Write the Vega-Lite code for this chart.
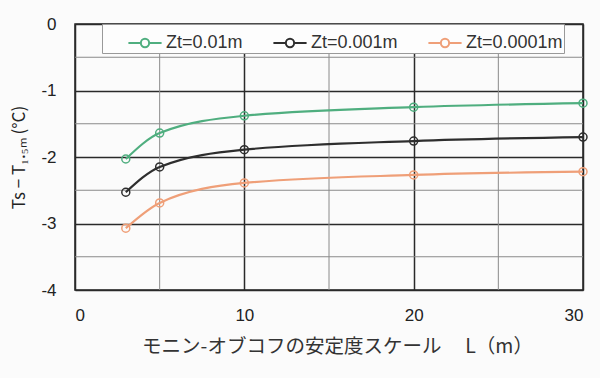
{
  "$schema": "https://vega.github.io/schema/vega-lite/v6.json",
  "width": 508,
  "height": 266,
  "autosize": {"type": "none"},
  "padding": {"left": 75, "top": 24, "right": 17, "bottom": 88},
  "background": "#fbfbfb",
  "config": {
    "view": {"stroke": "#222", "strokeWidth": 1.5},
    "font": "Noto Sans CJK JP"
  },
  "layer": [
    {
      "data": {"values": [{"v": -0.5}, {"v": -1.5}, {"v": -2.5}, {"v": -3.5}]},
      "mark": {"type": "rule", "color": "#8a8a8a", "strokeWidth": 1},
      "encoding": {
        "y": {
          "field": "v", "type": "quantitative", "scale": {"domain": [-4, 0], "nice": false},
          "title": "Ts − T₁.₅ₘ  (°C)",
          "axis": {
            "values": [-4, -3, -2, -1, 0], "grid": true, "gridColor": "#2a2a2a", "gridWidth": 1.5,
            "domain": false, "ticks": false, "labelPadding": 19, "labelFontSize": 17,
            "labelColor": "#222", "labelFont": "Liberation Sans",
            "labelExpr": "replace(datum.label, '−', '-')",
            "titleFontSize": 17, "titleFontWeight": "normal", "titleColor": "#222",
            "titlePadding": 12
          }
        }
      }
    },
    {
      "data": {"values": [{"v": 5}, {"v": 15}, {"v": 25}]},
      "mark": {"type": "rule", "color": "#8a8a8a", "strokeWidth": 1},
      "encoding": {
        "x": {
          "field": "v", "type": "quantitative", "scale": {"domain": [0, 30], "nice": false},
          "title": "モニン-オブコフの安定度スケール　 L（m）",
          "axis": {
            "values": [0, 10, 20, 30], "grid": true, "gridColor": "#2a2a2a", "gridWidth": 1.5,
            "domain": false, "ticks": false, "labelPadding": 17, "labelFontSize": 17,
            "labelColor": "#222", "labelFont": "Liberation Sans",
            "titleFontSize": 19.5, "titleFontWeight": "normal", "titleColor": "#333",
            "titlePadding": 14, "titleX": 262
          }
        }
      }
    },
    {
      "data": {
        "values": [
          {"L": 3, "dT": -2.03, "series": "Zt=0.01m"},
          {"L": 5, "dT": -1.64, "series": "Zt=0.01m"},
          {"L": 10, "dT": -1.38, "series": "Zt=0.01m"},
          {"L": 20, "dT": -1.25, "series": "Zt=0.01m"},
          {"L": 30, "dT": -1.19, "series": "Zt=0.01m"},
          {"L": 3, "dT": -2.53, "series": "Zt=0.001m"},
          {"L": 5, "dT": -2.15, "series": "Zt=0.001m"},
          {"L": 10, "dT": -1.89, "series": "Zt=0.001m"},
          {"L": 20, "dT": -1.76, "series": "Zt=0.001m"},
          {"L": 30, "dT": -1.70, "series": "Zt=0.001m"},
          {"L": 3, "dT": -3.07, "series": "Zt=0.0001m"},
          {"L": 5, "dT": -2.69, "series": "Zt=0.0001m"},
          {"L": 10, "dT": -2.39, "series": "Zt=0.0001m"},
          {"L": 20, "dT": -2.27, "series": "Zt=0.0001m"},
          {"L": 30, "dT": -2.22, "series": "Zt=0.0001m"}
        ]
      },
      "mark": {
        "type": "line",
        "interpolate": "monotone",
        "strokeWidth": 2.2,
        "point": {"filled": false, "size": 64, "strokeWidth": 1.5, "fill": "transparent"}
      },
      "encoding": {
        "x": {
          "field": "L", "type": "quantitative",
          "scale": {"domain": [0, 30], "nice": false},
          "title": "モニン-オブコフの安定度スケール　 L（m）",
          "axis": {
            "values": [0, 10, 20, 30], "grid": true, "gridColor": "#2a2a2a", "gridWidth": 1.5,
            "domain": false, "ticks": false, "labelPadding": 17, "labelFontSize": 17,
            "labelColor": "#222", "labelFont": "Liberation Sans",
            "titleFontSize": 19.5, "titleFontWeight": "normal", "titleColor": "#333",
            "titlePadding": 14, "titleX": 262
          }
        },
        "y": {
          "field": "dT", "type": "quantitative",
          "scale": {"domain": [-4, 0], "nice": false},
          "title": "Ts − T₁.₅ₘ  (°C)",
          "axis": {
            "values": [-4, -3, -2, -1, 0], "grid": true, "gridColor": "#2a2a2a", "gridWidth": 1.5,
            "domain": false, "ticks": false, "labelPadding": 19, "labelFontSize": 17,
            "labelColor": "#222", "labelFont": "Liberation Sans",
            "labelExpr": "replace(datum.label, '−', '-')",
            "titleFontSize": 17, "titleFontWeight": "normal", "titleColor": "#222",
            "titlePadding": 12
          }
        },
        "color": {
          "field": "series", "type": "nominal",
          "scale": {
            "domain": ["Zt=0.01m", "Zt=0.001m", "Zt=0.0001m"],
            "range": ["#4fae7f", "#2e2e2e", "#ef9f78"]
          },
          "legend": {
            "title": null,
            "orient": "none",
            "legendX": 27,
            "legendY": 0,
            "direction": "horizontal",
            "fillColor": "#fdfdfd",
            "strokeColor": "#999",
            "padding": 1,
            "symbolOffset": 24,
            "symbolType": "M-1,0H-0.25M0.25,0H1M-0.25,0A0.25,0.25,0,1,0,0.25,0A0.25,0.25,0,1,0,-0.25,0",
            "symbolSize": 1100,
            "symbolStrokeWidth": 2,
            "symbolFillColor": "transparent",
            "labelFontSize": 18,
            "labelFont": "Liberation Sans",
            "labelColor": "#333",
            "labelExpr": "datum.label == 'Zt=0.0001m' ? datum.label + '\u00a0\u00a0\u00a0\u00a0\u00a0' : datum.label",
            "columnPadding": 5,
            "labelOffset": 3
          }
        }
      }
    }
  ]
}
